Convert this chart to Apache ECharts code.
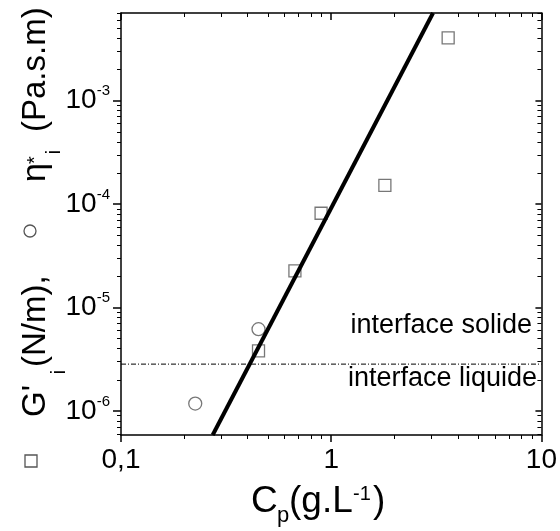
<!DOCTYPE html>
<html><head><meta charset="utf-8">
<script src="https://cdn.jsdelivr.net/npm/echarts@6/dist/echarts.min.js"></script>
<style>html,body{margin:0;padding:0;background:#fff}#c{width:560px;height:531px}</style>
</head><body><div id="c"></div>
<script>
// ---- data ----
const xTickValues = [0.1, 1, 10];
const xTickLabels = ['0,1', '1', '10'];
const yTickValues = [1e-6, 1e-5, 1e-4, 1e-3];
const yTickExponents = ['-6', '-5', '-4', '-3'];
const xRange = [0.1, 10];
const yRange = [5.86e-7, 7.05e-3];

const squareX = [0.451, 0.672, 0.895, 1.80, 3.60];
const squareY = [3.82e-6, 2.26e-5, 8.17e-5, 1.52e-4, 4.06e-3];
const circleX = [0.2255, 0.451];
const circleY = [1.18e-6, 6.18e-6];

const fitX = [0.273, 3.05];
const fitY = [5.86e-7, 7.05e-3];
const thresholdY = 2.84e-6;
const annotationTexts = ['interface solide', 'interface liquide'];

// ---- chart ----
const FONT = 'Liberation Sans, Arial, Helvetica, sans-serif';
const chart = echarts.init(document.getElementById('c'), null, {renderer: 'canvas'});

function matchIdx(v, arr) {
  for (let i = 0; i < arr.length; i++) {
    if (Math.abs(Math.log10(v) - Math.log10(arr[i])) < 1e-6) return i;
  }
  return -1;
}
const zip = (xs, ys) => xs.map((x, i) => [x, ys[i]]);
function txt(x, y, text, size, align, rot) {
  const el = {type: 'text', x: x, y: y,
    style: {text: text, fontSize: size, fontFamily: FONT, fill: '#000', align: align, verticalAlign: 'middle'}};
  if (rot) el.rotation = Math.PI / 2;
  return el;
}

const axisLineStyle = {color: '#000', width: 1.5};
const baseX = {
  type: 'log', logBase: 10, min: xRange[0], max: xRange[1],
  splitLine: {show: false}, minorSplitLine: {show: false},
  axisLine: {show: true, lineStyle: axisLineStyle}
};
const baseY = {
  type: 'log', logBase: 10, min: yRange[0], max: yRange[1],
  splitLine: {show: false}, minorSplitLine: {show: false},
  axisLine: {show: true, lineStyle: axisLineStyle}
};

const option = {
  animation: false,
  backgroundColor: '#fff',
  grid: {left: 121, right: 16, top: 13, bottom: 96, containLabel: false},
  xAxis: [
    Object.assign({}, baseX, {
      position: 'bottom',
      axisTick: {show: true, inside: false, length: 7, lineStyle: {color: '#000', width: 1.5}},
      minorTick: {show: true, splitNumber: 9, length: 4, lineStyle: {color: '#000', width: 1}},
      axisLabel: {
        show: true, margin: 11, fontSize: 28, color: '#000', fontFamily: FONT,
        formatter: v => { const i = matchIdx(v, xTickValues); return i >= 0 ? xTickLabels[i] : ''; }
      }
    }),
    Object.assign({}, baseX, {
      position: 'top',
      axisTick: {show: true, inside: true, length: 7, lineStyle: {color: '#000', width: 1.5}},
      minorTick: {show: true, splitNumber: 9, length: 4, lineStyle: {color: '#000', width: 1}},
      axisLabel: {show: false}
    })
  ],
  yAxis: [
    Object.assign({}, baseY, {
      position: 'left',
      axisTick: {show: true, inside: false, length: 8, customValues: yTickValues,
                 lineStyle: {color: '#000', width: 1.5}},
      minorTick: {show: true, splitNumber: 9, length: 4, lineStyle: {color: '#000', width: 1}},
      axisLabel: {
        show: true, margin: 11, color: '#000', fontFamily: FONT, customValues: yTickValues,
        formatter: v => { const i = matchIdx(v, yTickValues); return i >= 0 ? '{b|10}{s|' + yTickExponents[i] + '}' : ''; },
        rich: {
          b: {fontSize: 28, lineHeight: 34, fontFamily: FONT, color: '#000'},
          s: {fontSize: 15, lineHeight: 16, verticalAlign: 'top', fontFamily: FONT, color: '#000'}
        }
      }
    }),
    Object.assign({}, baseY, {
      position: 'right',
      axisTick: {show: true, inside: true, length: 6, customValues: yTickValues,
                 lineStyle: {color: '#000', width: 1.5}},
      minorTick: {show: true, splitNumber: 9, length: 4, lineStyle: {color: '#000', width: 1}},
      axisLabel: {show: false}
    })
  ],
  series: [
    {
      name: 'threshold', type: 'line', xAxisIndex: 0, yAxisIndex: 0,
      data: [[xRange[0], thresholdY], [xRange[1], thresholdY]],
      symbol: 'none', silent: true,
      lineStyle: {color: '#000', width: 1, type: [5, 2, 1, 2]}, z: 2
    },
    {
      name: 'squares', type: 'scatter', xAxisIndex: 0, yAxisIndex: 0,
      data: zip(squareX, squareY), symbol: 'rect', symbolSize: 12,
      itemStyle: {color: 'rgba(0,0,0,0)', borderColor: '#555', borderWidth: 1.3}, z: 3
    },
    {
      name: 'circles', type: 'scatter', xAxisIndex: 0, yAxisIndex: 0,
      data: zip(circleX, circleY), symbol: 'circle', symbolSize: 13,
      itemStyle: {color: 'rgba(0,0,0,0)', borderColor: '#555', borderWidth: 1.3}, z: 3
    },
    {
      name: 'fit', type: 'line', xAxisIndex: 0, yAxisIndex: 0,
      data: zip(fitX, fitY), symbol: 'none', clip: true,
      lineStyle: {color: '#000', width: 4}, z: 4
    }
  ],
  graphic: [
    // y-axis title pieces (rotated, reading bottom to top)
    {type: 'rect', shape: {x: 25, y: 455, width: 12, height: 12},
     style: {fill: 'none', stroke: '#555', lineWidth: 1.3}},
    txt(36, 417, "G'", 33, 'left', true),
    txt(59, 372, 'i', 20, 'center', true),
    txt(36, 367, '(N/m),', 33, 'left', true),
    {type: 'circle', shape: {cx: 30, cy: 231, r: 6},
     style: {fill: 'none', stroke: '#555', lineWidth: 1.3}},
    txt(36, 182, 'η', 34, 'left', true),
    txt(35, 160, '*', 20, 'center', true),
    txt(54, 152, 'i', 20, 'center', true),
    txt(36, 132, '(Pa.s.m)', 33, 'left', true),
    // x-axis title pieces
    txt(251, 502, 'C', 37, 'left', false),
    txt(277, 516, 'p', 22, 'left', false),
    txt(289, 502, '(g.L', 37, 'left', false),
    txt(353, 494, '-1', 20, 'left', false),
    txt(373, 502, ')', 37, 'left', false),
    // annotations
    txt(532, 326, annotationTexts[0], 27, 'right', false),
    txt(537, 379, annotationTexts[1], 27, 'right', false)
  ]
};
chart.setOption(option);
</script>
</body></html>
